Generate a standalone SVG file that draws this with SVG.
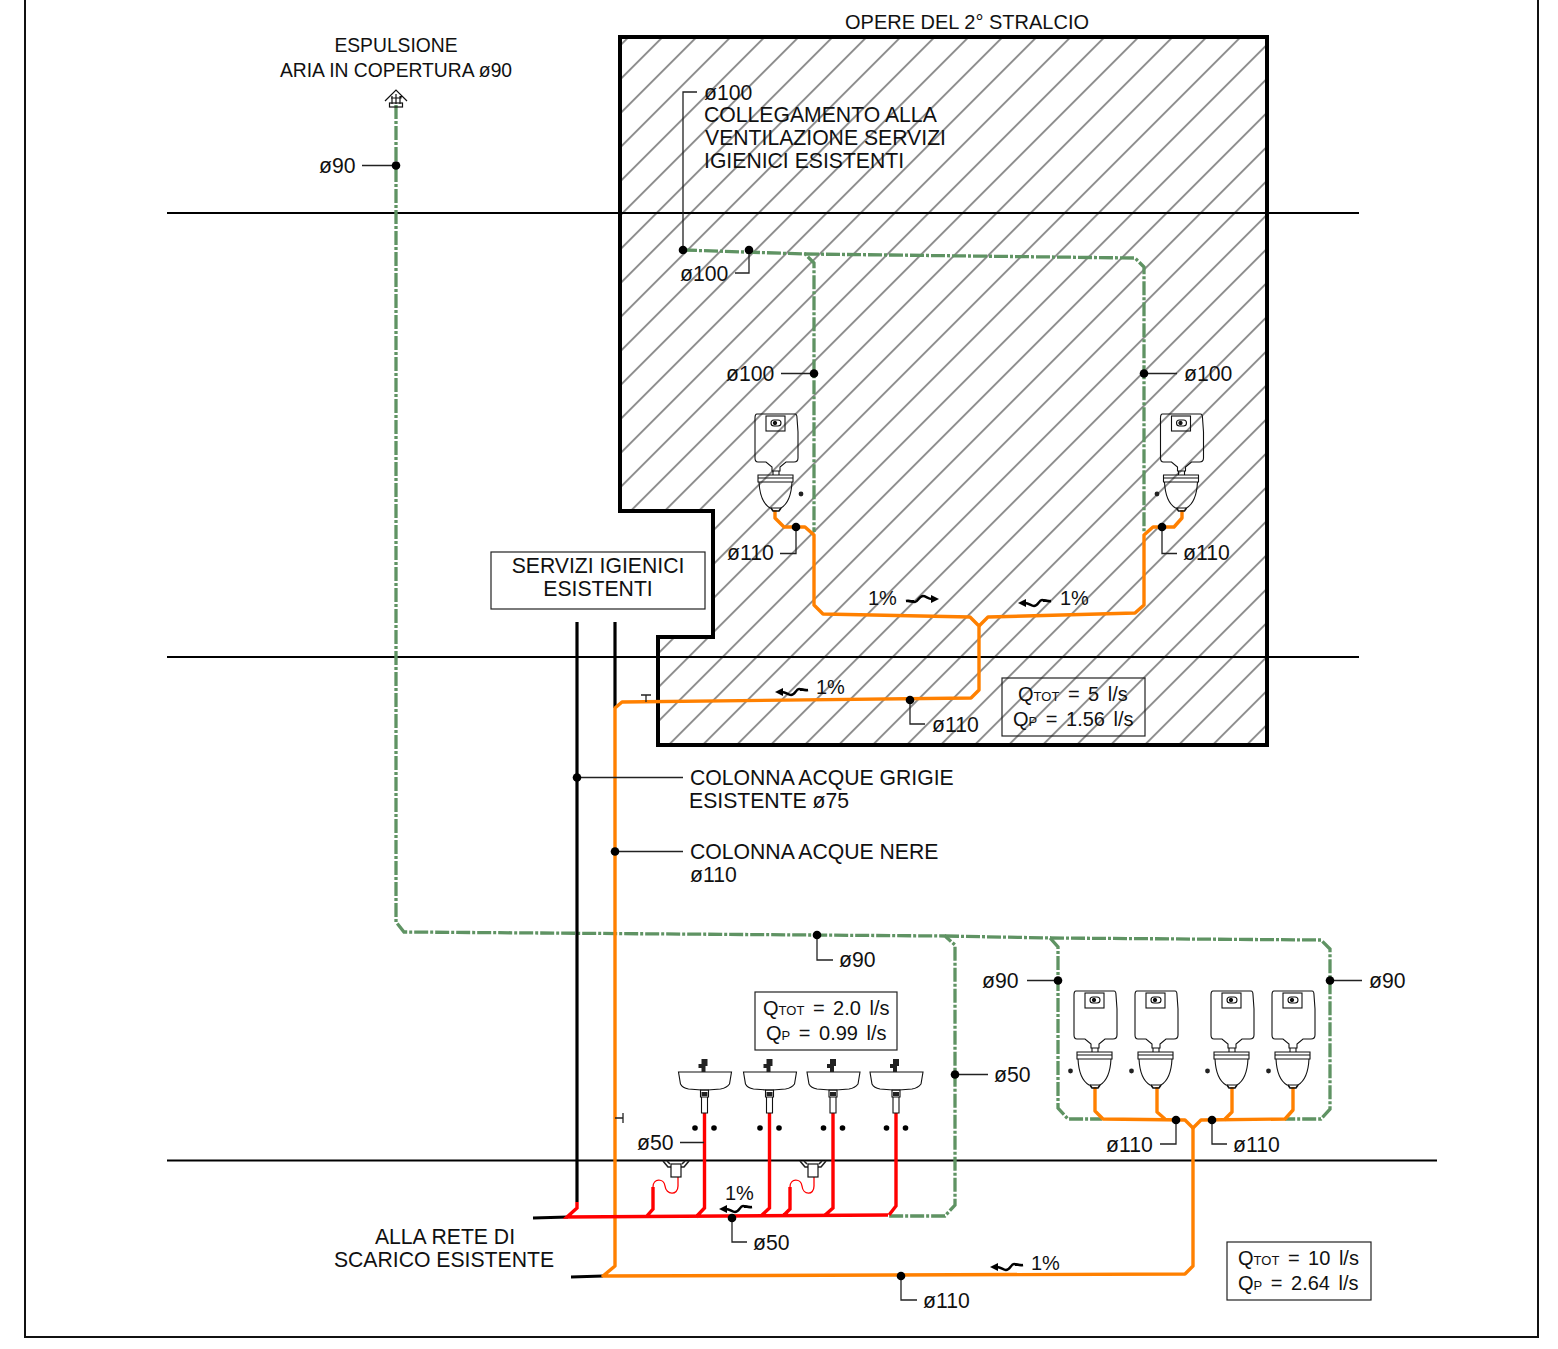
<svg xmlns="http://www.w3.org/2000/svg" width="1558" height="1349" viewBox="0 0 1558 1349">
<style>
text{font-family:"Liberation Sans",Arial,sans-serif;font-size:21.200px;fill:#111}
.m{text-anchor:middle}
.u{font-size:19.300px}
.p{font-size:20px}
.q{font-size:20px;word-spacing:3px}
.t{font-size:13px}
.g{fill:none;stroke:#5f9363;stroke-width:3.300;stroke-dasharray:14 2 3 2}
.o{fill:none;stroke:#ff8000;stroke-width:3.400;stroke-linejoin:round}
.r{fill:none;stroke:#ff0000;stroke-width:3.400}
.rt{fill:none;stroke:#ff0000;stroke-width:1.300}
.k{fill:none;stroke:#000;stroke-width:3.200}
.l{fill:none;stroke:#222;stroke-width:1.300}
.f{fill:none;stroke:#000;stroke-width:2}
.b{fill:#fff;stroke:#222;stroke-width:1.200}
.d{fill:none;stroke:#111;stroke-width:1.100}
.sq{fill:none;stroke:#000;stroke-width:2.400}
</style>
<defs>
<pattern id="hatch" patternUnits="userSpaceOnUse" width="40" height="24.042" patternTransform="translate(1036.700 37) rotate(-45)">
<line x1="0" y1="0" x2="40" y2="0" stroke="#8f8f8f" stroke-width="2"/>
<line x1="0" y1="24.042" x2="40" y2="24.042" stroke="#8f8f8f" stroke-width="2"/>
</pattern>
<g id="wcBody" class="d">
<path d="M-19 0H19Q21 0 21 4L22 18V44Q22 48 18 48H10L4 53V57H-4V53L-10 48H-18Q-21 48 -21 44L-21 18V4Q-21 0 -19 0Z"/>
<rect x="-10" y="2" width="19" height="15"/>
<rect x="-5" y="6" width="10" height="6" rx="3"/>
<circle cx="-1" cy="9" r="1.600" fill="#111"/>
<path d="M-3 57V61M3 57V61"/>
<path d="M-18 61H17V68H-18Z M-18 64H17"/>
<path d="M-17 68Q-16 88 -6 94H5Q15 88 16 68"/>
<path d="M-5 94L-3 97H3L5 94" stroke-width="1.600"/>
</g>
<g id="basin">
<path class="d" d="M-26 0H27L25 12Q22 16 16 17L3 18H-3L-16 17Q-22 16 -24 12Z"/>
<path d="M-3 -13H3V-6H1V0H-3V-4H-6V-8H-3Z" fill="#222"/>
<path class="d" d="M-4 18H4V25H-4Z M-3 25H3V41H-3Z"/>
<rect x="-3" y="20" width="6" height="4" fill="#222"/>
<circle cx="-9.500" cy="56" r="2.800" fill="#000"/>
<circle cx="9.500" cy="56" r="2.800" fill="#000"/>
</g>
<g id="drain">
<path d="M-13 0L-8 6H8L13 0M-9 0L-6 3M9 0L6 3" fill="none" stroke="#222" stroke-width="1.600"/>
<rect x="-5" y="3" width="10" height="13" fill="#fff" stroke="#111" stroke-width="1.200"/>
</g>
<g id="slopeR">
<path class="sq" d="M0 0C4 -1 6 1 9 1C12 1 13 -5 17 -5C20 -5 22 -2 26 -2"/>
<path d="M33 -2L25 -6V2Z" fill="#000"/>
<path d="M0 -1L8 -1V2L0 1Z" fill="#000"/>
</g>
<g id="slopeL">
<path class="sq" d="M0 0C-4 1 -6 -1 -9 -1C-12 -1 -13 5 -17 5C-20 5 -22 2 -26 2"/>
<path d="M-33 2L-25 6V-2Z" fill="#000"/>
<path d="M0 1L-8 1V-2L0 -1Z" fill="#000"/>
</g>
</defs>
<rect width="1558" height="1349" fill="#fff"/>
<g id="frame"><path d="M25 0V1337H1538V0" fill="none" stroke="#111" stroke-width="2"/></g>
<g id="hatched-area">
<path d="M620 37H1267V745H658V637H713V511H620Z" fill="url(#hatch)"/>
<path d="M620 37H1267V745H658V637H713V511H620Z" fill="none" stroke="#000" stroke-width="4"/>
</g>
<g id="floors">
<path class="f" d="M167 213H1359M167 657H1359M167 1160.500H1437"/>
</g>
<g id="connectors">
<path class="g" d="M396 105V922L404 932L945 936L955 945V1205L945 1216L888 1216"/>
<path class="g" d="M945 936L1050 938L1058 947V1108L1068 1119H1102"/>
<path class="g" d="M1050 938L1321 940L1330 949V1109L1321 1119H1285"/>
<path class="g" d="M683 250L805 254L814 263V532"/>
<path class="g" d="M805 254L1135 258L1144 267V532"/>
<path class="k" d="M577 622V1202"/>
<path class="k" d="M615 622V708"/>
<path class="k" d="M533 1218L568 1217M571 1277L603 1276"/>
<path class="o" d="M775 510V518L784 527H805L814 535V605L823 614L970 617L979 626V690L971 698L622 702L615 708V1266L603 1276L1185 1274L1193 1266V1128"/>
<path class="o" d="M1182 510V518L1174 527H1153L1144 535V605L1135 613L988 617L979 626"/>
<path class="o" d="M1095 1087V1111L1103 1119L1185 1120L1193 1128L1201 1120L1285 1119L1293 1110V1087"/>
<path class="o" d="M1157 1087V1112L1165 1119M1232 1087V1112L1224 1120"/>
<path class="r" d="M577 1202V1208L567 1217L888 1215M653 1187V1209L646 1217M704.500 1113V1208L696 1217M769.500 1113V1208L761 1216M833 1113V1208L824 1216M896 1113V1206L889 1215M790 1187V1209L783 1216"/>
<path class="rt" d="M653 1187C653 1178 664 1178 665 1186C666 1195 678 1196 678 1186V1176M790 1187C790 1178 801 1178 802 1186C803 1195 814 1196 814 1186V1176"/>
<path class="l" d="M362 165.500H396M781 373.500H814M1144 373.500H1177M683 250V92H697M749 250V273H735M780 553.500H796V527M1162 527V553.500H1177M910 700V724H925M577 777.500H683M615 851.500H683M817 935V960H833M1027 980.500H1058M1330 980.500H1362M955 1074.500H988M680 1142.500H704M732 1218V1242H747M1176 1120V1144H1160M1212 1120V1144H1227M901 1276V1300H917"/>
<path class="l" d="M641 695H651M646 695V702M623 1113V1123M615 1118H623"/>
<g fill="#000">
<circle cx="396" cy="165.500" r="4.300"/><circle cx="683" cy="250" r="4.300"/><circle cx="749" cy="250" r="4.300"/><circle cx="814" cy="373.500" r="4.300"/><circle cx="1144" cy="373.500" r="4.300"/><circle cx="796" cy="527" r="4.300"/><circle cx="1162" cy="527" r="4.300"/><circle cx="910" cy="700" r="4.300"/><circle cx="577" cy="777.500" r="4.300"/><circle cx="615" cy="851.500" r="4.300"/><circle cx="817" cy="935" r="4.300"/><circle cx="1058" cy="980.500" r="4.300"/><circle cx="1330" cy="980.500" r="4.300"/><circle cx="955" cy="1074.500" r="4.300"/><circle cx="732" cy="1218" r="4.300"/><circle cx="1176" cy="1120" r="4.300"/><circle cx="1212" cy="1120" r="4.300"/><circle cx="901" cy="1276" r="4.300"/>
</g>
<use href="#slopeR" x="906" y="601"/>
<use href="#slopeL" x="1051" y="601"/>
<use href="#slopeL" x="808" y="690"/>
<use href="#slopeL" x="752" y="1207"/>
<use href="#slopeL" x="1023" y="1265"/>
</g>
<g id="vent-terminal"><path d="M385 101L396 90L407 101M391 98H401V96M392 96V104M396 94V104M400 96V104" fill="none" stroke="#111" stroke-width="1.200"/><rect x="389.500" y="103" width="13" height="4" fill="none" stroke="#111" stroke-width="1.200"/></g>
<g id="wc-upper-left"><use href="#wcBody" x="776" y="414"/><circle cx="801" cy="494" r="2.400" fill="#222"/></g>
<g id="wc-upper-right"><use href="#wcBody" x="1181.500" y="414"/><circle cx="1157" cy="494" r="2.400" fill="#222"/></g>
<g id="wc-lower-1"><use href="#wcBody" x="1095" y="991"/><circle cx="1070.500" cy="1071" r="2.400" fill="#222"/></g>
<g id="wc-lower-2"><use href="#wcBody" x="1156" y="991"/><circle cx="1131.500" cy="1071" r="2.400" fill="#222"/></g>
<g id="wc-lower-3"><use href="#wcBody" x="1232" y="991"/><circle cx="1207.500" cy="1071" r="2.400" fill="#222"/></g>
<g id="wc-lower-4"><use href="#wcBody" x="1293" y="991"/><circle cx="1268.500" cy="1071" r="2.400" fill="#222"/></g>
<g id="basin-1"><use href="#basin" x="704.500" y="1072"/></g>
<g id="basin-2"><use href="#basin" x="769.500" y="1072"/></g>
<g id="basin-3"><use href="#basin" x="833" y="1072"/></g>
<g id="basin-4"><use href="#basin" x="896" y="1072"/></g>
<g id="drain-1"><use href="#drain" x="676" y="1161"/></g>
<g id="drain-2"><use href="#drain" x="813" y="1161"/></g>
<g id="box-servizi"><rect class="b" x="491" y="552" width="214" height="57"/><text class="m" x="598" y="573">SERVIZI IGIENICI</text><text class="m" x="598" y="596">ESISTENTI</text></g>
<g id="box-q1"><rect x="1002" y="678" width="143" height="58" fill="none" stroke="#222" stroke-width="1.200"/><text class="q" x="1018" y="701">Q<tspan class="t">TOT</tspan> = 5 l/s</text><text class="q" x="1013" y="726">Q<tspan class="t">P</tspan> = 1.56 l/s</text></g>
<g id="box-q2"><rect class="b" x="755" y="992" width="142" height="58"/><text class="q" x="763" y="1015">Q<tspan class="t">TOT</tspan> = 2.0 l/s</text><text class="q" x="766" y="1040">Q<tspan class="t">P</tspan> = 0.99 l/s</text></g>
<g id="box-q3"><rect class="b" x="1227" y="1242" width="144" height="58"/><text class="q" x="1238" y="1265">Q<tspan class="t">TOT</tspan> = 10 l/s</text><text class="q" x="1238" y="1290">Q<tspan class="t">P</tspan> = 2.64 l/s</text></g>
<g id="labels">
<text class="p" x="845" y="29">OPERE DEL 2° STRALCIO</text>
<text class="m u" x="396" y="52">ESPULSIONE</text>
<text class="m u" x="396" y="77">ARIA IN COPERTURA ø90</text>
<text x="319" y="173">ø90</text>
<text x="704" y="100">ø100</text>
<text x="704" y="122">COLLEGAMENTO ALLA</text>
<text x="705" y="145">VENTILAZIONE SERVIZI</text>
<text x="704" y="168">IGIENICI ESISTENTI</text>
<text x="680" y="281">ø100</text>
<text x="726" y="381">ø100</text>
<text x="1184" y="381">ø100</text>
<text x="727" y="560">ø110</text>
<text x="1183" y="560">ø110</text>
<text class="p" x="868" y="605">1%</text>
<text class="p" x="1060" y="605">1%</text>
<text class="p" x="816" y="694">1%</text>
<text x="932" y="732">ø110</text>
<text x="690" y="785">COLONNA ACQUE GRIGIE</text>
<text x="689" y="808">ESISTENTE ø75</text>
<text x="690" y="859">COLONNA ACQUE NERE</text>
<text x="690" y="882">ø110</text>
<text x="839" y="967">ø90</text>
<text x="982" y="988">ø90</text>
<text x="1369" y="988">ø90</text>
<text x="994" y="1082">ø50</text>
<text x="637" y="1150">ø50</text>
<text class="p" x="725" y="1200">1%</text>
<text x="753" y="1250">ø50</text>
<text x="1106" y="1152">ø110</text>
<text x="1233" y="1152">ø110</text>
<text class="p" x="1031" y="1270">1%</text>
<text x="923" y="1308">ø110</text>
<text class="m" x="445" y="1244">ALLA RETE DI</text>
<text class="m" x="444" y="1267">SCARICO ESISTENTE</text>
</g>
</svg>
